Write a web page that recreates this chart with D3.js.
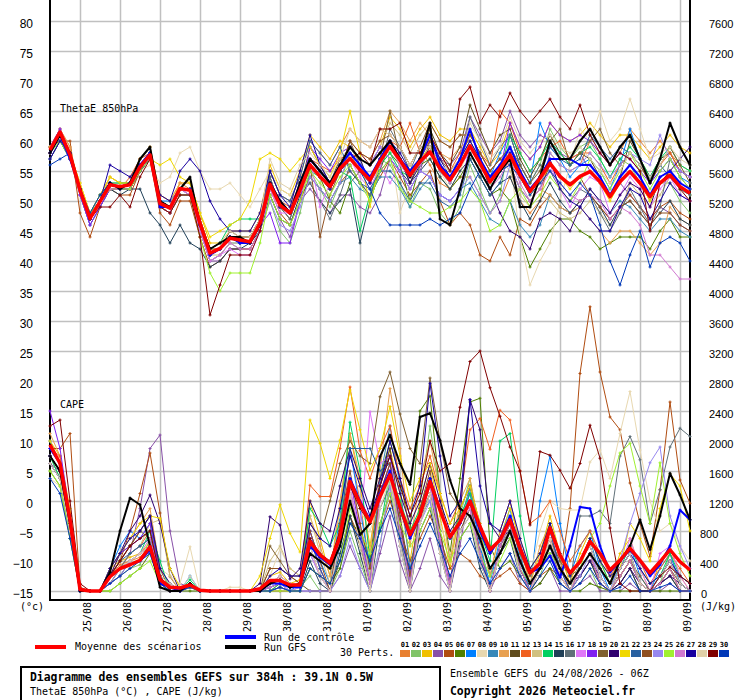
<!DOCTYPE html>
<html><head><meta charset="utf-8">
<script src="https://cdn.jsdelivr.net/npm/d3@7"></script>
<style>body{margin:0;background:#fff}svg{display:block}</style>
</head><body>
<svg id="c" width="740" height="700"></svg>
<script>
// ---------- DATA ----------
const steps = [0,6,12,18,24,30,36,42,48,54,60,66,72,78,84,90,96,102,108,114,120,126,132,138,144,150,156,162,168,174,180,186,192,198,204,210,216,222,228,234,240,246,252,258,264,270,276,282,288,294,300,306,312,318,324,330,336,342,348,354,360,366,372,378,384];
const dayHours = [18,42,66,90,114,138,162,186,210,234,258,282,306,330,354,378];
const dayLabels = ["25/08","26/08","27/08","28/08","29/08","30/08","31/08","01/09","02/09","03/09","04/09","05/09","06/09","07/09","08/09","09/09"];
const thetaTicks = [-15,-10,-5,0,5,10,15,20,25,30,35,40,45,50,55,60,65,70,75,80];
const capeTicks = [0,400,800,1200,1600,2000,2400,2800,3200,3600,4000,4400,4800,5200,5600,6000,6400,6800,7200,7600];
const memberNames = ["01","02","03","04","05","06","07","08","09","10","11","12","13","14","15","16","17","18","19","20","21","22","23","24","25","26","27","28","29","30"];
const memberColors = ["#e88030","#80c468","#f0c000","#8850a8","#b04c10","#508000","#0080ff","#e8d8b0","#3888b8","#e8a050","#604c1c","#f06020","#d0c080","#00d060","#204058","#607078","#e078f8","#8020f0","#806030","#300070","#f0d800","#2860a0","#905020","#9888f0","#a0f030","#d078d0","#1800a0","#e0d0a8","#800000","#0038b8"];

const thetaMean = [58.5,61.5,57.7,51.8,47.1,49.9,52.7,52.4,52.7,55.7,57.7,49.6,48.8,52.1,51.8,46.3,41.3,42.1,43.8,43.5,43.2,46.3,52.8,49.3,48.0,51.8,56.0,54.1,52.4,55.4,57.1,55.2,53.5,56.6,59.1,56.8,54.3,56.6,58.2,55.4,53.5,56.0,59.2,56.3,53.2,55.4,57.7,54.3,51.6,53.8,56.3,54.1,52.7,54.1,54.9,53.2,50.7,53.2,54.9,53.0,50.7,53.0,54.3,52.4,51.3];
const thetaControl = [58,61,57,52,47,50,53,52,53,56,58,49,49,52,52,46,41,42,44,43,43,46,53,50,48,53,57,55,53,56,58,56,54,57,60,57,55,57,61,56,54,57,62,57,54,56,59,55,52,54,57,57,57,56,56,54,51,54,56,54,51,54,55,53,52];
const thetaGFS = [58,61,58,52,47,50,53,52,53,57,59,50,49,52,54,46,42,43,44,44,43,46,53,50,48,53,57,55,53,56,59,57,56,58,60,57,54,57,63,47,46,52,58,55,52,55,57,49,49,54,60,57,57,60,62,59,56,59,61,57,53,57,63,59,56];
const thetaPerts = [
[59,62,59,51,47,50,53,52,52,55,58,50,49,53,52,47,42,43,44,44,44,47,55,51,50,54,60,58,56,59,62,60,59,62,61,59,56,59,56,53,52,54,54,51,48,50,54,50,48,50,58,56,55,56,60,58,56,58,62,60,58,60,58,56,55],
[58,60,57,52,48,50,52,52,53,56,57,49,48,51,51,45,40,41,43,42,42,45,50,45,43,48,55,52,49,53,58,55,53,57,56,53,49,53,52,48,46,49,56,52,48,51,61,56,53,56,62,59,57,59,60,57,54,57,56,53,50,53,53,50,48],
[59,61,58,53,48,51,54,53,53,57,59,51,50,53,53,48,43,43,45,45,45,48,56,52,51,55,61,59,57,60,59,57,56,59,64,62,59,62,64,61,60,62,62,59,56,58,63,59,57,59,63,61,60,61,63,61,59,61,61,59,57,59,61,59,58],
[58,62,58,51,46,49,52,52,52,55,57,49,48,51,51,45,40,40,42,42,42,45,51,47,44,50,52,50,48,51,51,49,48,51,57,55,52,55,60,57,56,58,64,61,58,60,65,61,59,61,60,58,57,58,55,53,51,53,51,49,47,49,48,46,45],
[59,60,60,48,44,49,52,51,51,55,57,48,46,50,50,44,39,40,42,42,42,45,52,48,46,50,54,52,50,53,55,53,51,54,57,54,51,53,55,50,46,48,46,41,40,44,41,47,46,49,51,49,48,50,51,49,47,49,51,49,47,49,50,48,47],
[58,61,57,52,47,50,53,52,53,56,58,50,49,52,52,46,41,42,44,43,43,46,53,49,48,52,56,54,50,48,53,55,53,56,58,56,50,56,57,54,52,54,57,54,51,52,50,44,39,42,45,47,47,45,44,42,43,44,44,44,42,45,47,44,44],
[57,60,58,52,48,50,53,53,53,56,57,50,50,52,51,46,42,43,44,44,44,47,53,50,48,52,57,55,53,56,58,56,53,57,60,57,55,57,59,56,54,57,60,57,54,58,61,56,53,63,59,57,54,56,57,55,52,56,62,57,53,55,57,54,53],
[57,60,58,53,48,51,53,53,53,55,56,53,54,58,59,55,52,52,53,51,49,52,55,52,51,53,56,55,53,57,59,56,54,57,59,48,53,56,58,55,52,55,59,56,53,56,57,44,36,40,43,50,56,62,60,65,60,62,67,62,57,58,59,56,55],
[58,61,57,51,46,49,52,52,52,55,57,49,48,51,51,45,40,41,43,43,43,46,53,49,48,52,54,52,50,53,54,52,51,54,54,52,49,52,54,51,50,52,53,50,47,46,50,46,44,46,51,49,48,49,52,50,48,50,49,47,45,47,47,45,44],
[59,62,59,52,47,50,54,53,53,57,59,51,50,53,53,47,42,42,44,44,44,47,55,51,50,54,56,54,52,55,60,58,57,60,65,63,60,63,61,58,57,59,60,57,54,56,56,52,50,52,51,49,48,49,47,45,43,45,45,43,41,43,49,47,46],
[58,61,58,52,47,50,53,52,53,56,58,50,49,52,52,46,41,42,45,44,44,47,54,49,47,52,59,56,53,57,56,53,51,55,60,57,53,57,62,58,56,59,66,62,58,61,62,57,54,57,61,58,56,58,57,54,51,54,60,57,54,57,58,55,54],
[58,61,58,52,47,50,52,52,54,57,58,49,48,52,52,46,41,42,44,43,43,46,53,50,49,53,57,56,55,57,58,57,56,58,60,59,63,58,60,58,55,58,61,58,56,65,63,58,55,57,59,60,57,58,58,56,53,56,58,56,53,56,58,55,54],
[59,61,58,52,47,50,53,53,53,56,58,50,49,52,52,46,41,41,43,43,43,46,51,47,46,50,56,54,52,55,59,57,56,59,63,61,58,61,63,60,59,61,61,58,55,57,55,51,49,51,50,48,47,48,50,48,46,48,53,51,49,51,54,52,51],
[58,61,58,52,48,51,53,53,53,55,57,50,49,52,52,46,42,43,46,47,47,47,53,49,48,52,55,54,53,55,54,45,51,56,58,55,54,56,58,55,53,56,59,56,53,55,61,58,55,57,60,58,56,58,59,57,54,57,59,57,54,57,59,56,55],
[57,60,57,52,48,50,52,51,52,52,48,46,43,46,43,42,39,40,42,42,43,45,51,47,46,51,53,50,48,50,52,43,50,55,57,55,53,55,57,54,52,55,57,54,51,53,54,50,47,50,53,50,48,50,51,49,46,49,50,48,46,48,50,47,46],
[58,61,58,52,47,50,53,52,52,56,58,50,49,52,51,46,41,42,44,43,43,46,54,49,47,52,53,50,47,51,56,53,51,55,62,59,55,59,59,55,53,56,64,60,56,59,61,56,53,56,55,52,50,52,51,48,45,48,52,49,46,49,57,54,52],
[59,61,58,51,47,50,52,52,53,56,57,49,48,52,51,45,40,41,42,41,41,45,52,48,48,53,57,49,53,56,57,54,52,56,53,56,54,57,59,56,54,56,59,57,54,56,58,55,52,54,56,52,49,52,54,53,48,51,54,52,49,52,54,51,50],
[59,62,58,51,46,49,52,52,52,55,57,49,48,51,51,46,41,42,44,43,43,46,48,43,43,50,59,57,55,58,59,57,56,59,57,55,52,55,54,51,50,52,59,56,53,55,63,59,57,59,63,61,60,61,60,58,56,58,57,55,53,55,57,55,54],
[58,61,58,52,47,50,53,52,52,55,58,50,49,52,52,47,42,42,44,44,44,47,53,49,48,52,56,54,52,55,60,56,54,57,65,57,55,57,60,57,55,57,61,58,55,57,59,56,53,55,60,62,56,58,60,62,58,56,58,56,53,56,59,56,53],
[58,61,57,52,47,50,53,52,52,55,57,50,49,52,52,46,41,42,44,43,43,46,53,49,48,52,56,54,52,55,57,55,53,57,59,57,53,56,59,56,54,56,59,57,52,48,45,44,42,47,48,47,45,49,52,50,48,51,53,52,49,54,55,57,59],
[59,61,58,53,48,51,54,53,53,56,57,56,57,54,53,48,44,45,46,47,50,57,58,57,55,57,59,56,54,58,65,58,49,57,60,57,55,57,59,56,54,56,59,56,53,55,57,54,51,53,56,54,52,54,55,53,50,53,55,53,50,53,55,52,51],
[58,61,58,52,47,50,53,52,53,56,58,50,49,52,52,46,41,42,44,43,43,46,55,51,50,54,60,58,56,59,55,53,52,55,55,53,50,53,53,50,49,51,57,54,51,53,58,54,52,54,59,57,56,57,61,59,57,59,58,56,54,56,54,52,51],
[58,61,58,52,47,50,52,52,53,56,58,50,49,52,52,46,41,42,44,43,43,46,53,50,48,53,56,44,51,55,60,58,57,60,61,59,56,59,63,60,59,61,61,58,55,57,56,52,50,52,56,54,53,54,51,49,47,49,50,48,46,48,48,46,45],
[58,61,57,52,47,50,53,52,52,56,57,50,49,52,52,46,41,42,44,43,43,46,50,46,45,49,54,52,50,53,59,57,56,59,57,55,52,55,54,51,50,52,54,51,48,50,56,52,50,52,58,56,55,56,58,56,54,56,58,57,56,61,57,55,54],
[58,60,57,52,48,50,52,52,52,55,57,49,48,51,51,44,38,35,38,38,38,43,51,47,46,50,55,53,51,54,56,53,50,55,57,52,50,49,48,48,49,50,52,50,45,46,50,52,49,51,54,52,50,53,57,55,52,55,58,55,52,55,57,54,52],
[58,61,58,52,47,50,52,52,53,56,57,49,48,52,51,45,40,41,43,42,42,45,52,49,48,52,56,54,52,55,57,55,53,56,59,56,54,56,58,55,53,56,58,55,52,54,57,53,50,52,55,53,51,50,51,50,47,49,48,46,41,41,39,37,37],
[57,60,58,52,47,50,56,55,54,56,58,51,50,55,57,55,50,47,45,45,45,48,55,51,49,55,61,56,53,56,59,57,53,57,60,58,55,57,61,57,54,57,60,57,54,55,58,55,52,54,57,52,50,49,47,45,45,49,52,51,47,50,53,51,50],
[58,61,58,52,47,50,53,52,53,56,58,50,49,52,52,46,42,43,45,44,44,47,57,53,52,56,58,56,54,57,62,60,59,62,61,59,56,59,59,56,55,57,63,60,57,59,64,60,58,60,61,59,58,59,57,55,53,55,58,56,54,56,59,57,56],
[58,61,58,52,47,49,49,51,49,54,57,49,48,51,51,44,31,36,41,41,41,45,53,49,48,52,56,54,52,55,57,58,56,62,62,63,58,58,61,58,55,67,69,63,66,64,68,65,63,65,67,64,62,66,61,58,56,58,57,55,45,53,55,52,50],
[56,57,58,52,48,51,53,52,53,56,58,50,49,52,52,46,41,42,44,43,43,46,53,49,48,52,56,54,52,55,57,55,52,48,46,46,46,46,47,46,47,48,52,55,52,55,56,54,51,53,55,53,51,53,51,46,40,36,41,45,39,43,44,43,40]
];

const capeMean = [1950,1700,950,20,0,0,190,300,350,410,590,150,50,40,80,10,0,0,0,0,0,30,140,140,80,80,660,480,370,720,1460,1170,920,1260,1550,1120,750,1010,1460,1080,720,920,1200,860,550,680,950,570,240,370,840,480,240,390,660,500,280,410,570,410,240,390,550,390,280];
const capeControl = [1900,1700,950,0,0,0,200,300,350,400,550,100,50,0,80,0,0,0,0,0,0,0,100,100,50,50,600,450,350,700,1500,1200,950,1300,1600,1100,700,1000,1500,1100,700,900,1200,800,500,700,1000,600,250,300,470,180,600,1120,1100,600,250,400,550,400,200,350,600,1080,950];
const capeGFS = [1800,1600,900,0,0,0,250,800,1240,1150,600,50,0,0,100,0,0,0,0,0,0,0,100,150,50,100,500,400,300,600,1200,750,900,1790,2080,1700,1420,2320,2370,2010,1480,1100,1000,700,300,500,800,400,100,300,600,300,100,300,500,300,100,400,600,950,550,1000,1570,1280,950];
const capePerts = [
[1900,1700,900,0,0,0,200,350,400,450,600,100,0,0,50,0,0,0,0,0,0,0,100,150,50,100,700,300,0,800,1900,1200,300,1300,1700,900,0,1000,1400,700,0,900,1100,500,0,600,900,300,0,300,700,200,0,300,500,100,0,200,400,100,0,100,300,0,0],
[1800,1500,800,0,0,0,100,200,300,350,700,200,0,0,100,0,0,0,0,0,0,0,50,100,0,50,200,0,0,300,800,400,0,600,1500,700,100,1200,2200,1300,400,1000,1500,700,0,500,800,300,0,200,600,100,0,100,300,0,0,200,400,100,0,100,500,100,0],
[2000,1800,1100,0,0,0,300,400,450,500,650,150,50,0,100,0,0,0,0,0,0,0,200,250,100,150,1200,700,200,1100,2100,1400,600,1500,1900,1300,400,1200,1700,1000,300,1100,1400,800,200,800,1200,600,100,500,1000,500,100,500,800,400,100,500,700,300,0,400,600,200,0],
[1700,1600,1000,0,0,0,100,300,500,1100,1900,2080,800,100,50,0,0,0,0,0,0,0,0,50,0,0,0,0,0,200,600,300,0,500,1000,400,0,300,700,200,0,600,1400,600,0,300,500,100,0,100,300,0,0,100,200,0,0,0,100,0,0,0,100,0,0],
[1900,1900,2100,50,0,0,200,400,800,1300,1840,1040,190,0,50,0,0,0,0,0,0,0,0,0,0,0,300,200,100,400,1000,700,400,800,1200,800,400,700,1000,700,300,500,400,200,100,200,300,100,0,200,300,200,1100,2900,3790,2920,2320,2150,1440,900,460,1350,2520,1480,1170],
[1600,1400,700,0,0,0,0,100,200,300,500,100,0,0,0,0,0,0,0,0,0,0,0,50,0,0,300,200,100,300,900,800,400,1500,2000,1500,800,2400,2600,1300,500,1500,2520,2570,600,300,400,200,0,100,300,100,0,0,100,50,0,0,0,0,0,0,0,0,0],
[2000,1700,1000,0,0,0,300,600,800,700,900,200,100,0,200,0,0,0,0,0,0,0,100,100,0,100,800,400,100,1000,1900,1100,300,1400,1800,900,200,1100,1500,700,100,900,1300,600,100,700,1100,400,0,1200,1800,900,200,600,800,300,0,400,600,200,0,300,500,100,0],
[1500,1400,900,0,0,0,100,200,300,400,500,300,200,100,590,0,0,0,50,50,0,0,200,560,300,200,900,700,600,1000,1400,1100,800,1200,1500,1000,700,900,1300,900,500,700,900,600,300,500,700,400,200,800,1200,1100,1080,1080,1720,1880,1500,2100,2660,1880,1200,800,900,600,400],
[1800,1600,900,0,0,0,200,400,600,700,800,100,0,0,100,0,0,0,0,0,0,0,50,100,50,50,500,200,0,600,1200,800,200,1500,2200,1400,300,1000,1200,600,100,900,1400,800,200,600,1000,500,0,400,900,400,0,400,700,200,0,300,500,100,0,200,400,100,0],
[2100,1800,1000,0,0,0,200,500,700,900,1100,300,100,0,100,0,0,0,0,0,0,0,100,200,100,100,1000,600,200,1200,2100,1500,500,1600,2700,1900,600,1500,2000,1300,400,1200,1500,800,200,800,1200,600,100,600,900,400,0,400,600,200,0,300,500,100,0,200,400,100,0],
[1700,1500,900,0,0,0,300,500,600,800,1000,200,0,0,100,0,0,0,0,0,0,0,300,300,200,100,0,0,0,400,1000,600,100,1400,1900,1000,200,900,1300,700,100,800,1100,500,0,500,800,300,0,300,600,200,0,200,400,100,0,100,300,0,0,100,200,0,0],
[1900,1800,1000,0,0,0,200,300,500,600,800,200,0,0,100,0,0,0,0,0,0,0,0,100,50,100,1410,1260,1260,1900,2720,1870,1500,1900,2200,1500,1100,1400,1800,1300,900,1200,2150,2300,1890,2410,2280,1600,900,1000,1200,800,400,600,800,500,200,400,600,400,100,300,500,300,100],
[1800,1600,900,0,0,0,200,300,500,600,900,950,200,0,100,0,0,0,0,0,0,0,400,600,300,200,1000,500,100,900,1500,900,200,1300,1600,800,100,1000,1400,700,0,900,1100,400,0,500,900,300,0,300,700,200,0,300,500,100,0,200,400,100,0,100,300,0,0],
[1800,1500,800,0,0,0,100,300,400,500,800,400,0,0,150,0,0,0,0,0,0,0,0,100,50,100,1100,900,600,900,2250,1600,400,800,1600,1200,800,1100,1500,1100,700,1000,1300,800,400,2000,2100,1000,300,500,900,500,200,400,700,400,100,300,600,300,100,200,500,200,100],
[1700,1500,800,0,0,0,100,200,400,500,600,100,0,0,50,0,0,0,0,0,0,0,0,50,0,0,400,100,0,500,1000,500,0,900,1300,600,0,800,1100,500,0,700,900,300,0,500,700,200,0,300,500,100,0,200,400,100,0,100,300,0,0,100,200,0,0],
[1800,1600,900,0,0,0,200,300,500,600,700,200,0,0,100,0,0,0,0,0,0,0,50,100,50,50,600,200,0,700,1300,700,100,1100,1400,700,100,1000,1300,600,0,800,1000,400,0,600,800,300,0,400,700,300,100,1000,1000,1070,900,1800,2060,1750,900,1350,1920,2170,2060],
[1900,1700,900,0,0,0,200,300,400,500,600,100,0,0,100,0,0,0,0,0,0,0,50,100,0,50,500,200,0,700,1300,800,2390,1700,1800,900,100,1000,1400,700,0,900,1100,500,0,600,900,300,0,400,700,200,0,300,500,200,0,300,700,300,0,500,600,200,0],
[2400,1900,1000,0,0,0,300,500,600,700,900,200,0,0,100,0,0,0,0,0,0,0,100,200,100,100,800,300,0,800,1500,800,100,1300,1700,900,200,1000,1500,700,100,900,1200,500,0,600,900,300,0,400,800,300,0,400,600,200,0,300,500,100,0,200,400,100,0],
[1800,1600,1000,0,0,0,200,400,600,800,700,200,0,0,100,0,0,0,0,0,0,0,600,400,200,200,900,700,1200,1700,2000,1800,1700,2590,2920,2360,1900,1700,2840,2000,1300,1100,1400,900,500,700,900,500,200,400,700,400,200,300,500,300,100,200,400,200,0,100,300,100,0],
[1700,1500,900,0,0,0,200,500,800,1000,1280,900,300,0,50,0,0,0,0,0,0,100,990,880,160,300,1200,900,800,1400,1900,1500,1100,1500,1800,1300,900,1200,1700,1200,800,1000,2550,2150,900,700,800,400,100,300,600,300,100,200,400,200,0,100,300,100,0,100,200,100,0],
[2000,1700,1000,0,0,0,300,500,700,900,1000,970,300,50,100,0,0,0,0,0,0,200,700,1150,770,520,2280,1970,1500,2010,2680,2150,1610,1900,2460,1800,1200,1500,1700,1300,900,1100,1400,900,500,700,1100,700,300,500,900,500,200,400,700,400,200,300,900,700,400,1100,1560,1400,800],
[1800,1600,900,0,0,0,200,400,500,600,700,200,0,0,100,0,0,0,0,0,0,0,50,100,50,50,700,300,0,800,1900,1900,1900,1600,1700,800,100,1100,1500,800,100,900,1200,500,0,600,900,300,0,400,800,300,0,400,600,200,0,300,500,100,0,200,400,100,0],
[1800,1600,900,0,0,0,200,400,600,800,1000,300,0,0,100,0,0,0,0,0,0,0,300,300,200,100,800,400,0,900,1600,900,300,1300,1700,900,200,1100,1600,800,100,1000,1200,500,0,600,900,300,0,400,700,200,0,300,500,100,0,200,400,100,0,100,300,0,0],
[1700,1500,800,0,0,0,100,200,400,500,600,100,0,0,50,0,0,0,0,0,0,0,0,50,0,0,0,0,0,200,700,300,0,600,1400,600,0,900,1200,500,0,800,1000,400,0,500,800,200,0,300,600,100,0,200,500,200,0,400,900,1300,1710,1920,1000,600,300],
[1600,1400,700,0,0,0,0,100,200,300,400,100,0,0,50,0,0,0,0,0,0,0,0,0,0,0,300,200,100,400,1100,800,500,900,1300,900,600,800,1100,800,400,700,900,500,200,400,700,300,100,300,500,300,100,300,700,900,1400,1840,1970,1400,900,1710,900,500,200],
[1800,1600,900,0,0,0,100,300,400,500,700,200,0,0,100,0,0,0,0,0,0,0,50,100,50,50,600,200,0,700,1400,700,100,1200,1600,800,100,1000,1400,700,100,900,1100,500,0,600,900,300,0,400,700,200,0,300,500,100,0,200,400,100,0,100,300,0,0],
[1800,1600,1000,0,0,0,300,500,700,800,1000,300,100,0,100,0,0,0,0,0,0,0,200,300,200,200,900,700,600,1100,1800,1400,1000,1400,2000,1500,1000,1400,2770,1800,1000,1200,2550,1400,900,800,1200,700,300,500,900,500,200,400,700,400,200,300,500,300,100,200,400,200,100],
[1700,1500,800,0,0,0,200,300,400,500,600,200,100,0,200,0,0,0,0,0,0,0,100,200,100,100,600,200,0,700,1300,600,0,1100,1500,600,0,900,1300,500,0,800,1000,400,0,500,800,200,0,300,700,200,0,400,600,200,0,300,500,100,0,200,400,100,0],
[2200,2280,1200,100,0,0,200,400,600,700,800,200,0,0,100,0,0,0,0,0,0,0,100,100,50,100,700,500,400,800,1400,1100,900,1400,1800,1400,1000,1300,2000,1600,1700,2450,3060,3200,2710,2330,1920,1600,880,1860,1810,1610,1370,1700,2210,1770,840,100,0,0,0,200,320,200,100],
[1500,1300,700,0,0,0,100,200,300,400,500,100,0,0,50,0,0,0,0,0,0,0,0,50,0,0,300,200,100,400,900,700,400,800,1100,700,300,600,900,600,200,500,700,400,100,300,500,200,0,200,400,100,0,100,300,100,0,50,200,0,0,50,100,0,0]
];

// ---------- SCALES ----------
const svg = d3.select("#c");
const x = d3.scaleLinear().domain([0,384]).range([50,690]);
const yT = d3.scaleLinear().domain([-15,80]).range([591,21]);
const yC = d3.scaleLinear().domain([0,7600]).range([591,21]);
const MONO = "'DejaVu Sans Mono', monospace";
const SANS = "'Liberation Sans', Arial, sans-serif";

// ---------- GRID / AXES ----------
const gx = svg.append("g").attr("transform","translate(0,600)")
  .call(d3.axisBottom(x).tickValues(dayHours).tickSize(-600).tickFormat((d,i)=>dayLabels[i]));
gx.select(".domain").remove();
gx.selectAll(".tick line").attr("stroke","#c0c0c0").attr("stroke-width",1.5);
gx.selectAll(".tick text").attr("x",0).attr("y",0).attr("dy",null)
  .attr("transform","translate(10.5,2) rotate(-90)").attr("text-anchor","end")
  .attr("fill","#000").style("font-family",MONO).style("font-size","10px");

const gy = svg.append("g").attr("transform","translate(50,0)")
  .call(d3.axisLeft(yT).tickValues(thetaTicks).tickSize(-640).tickPadding(17).tickFormat(d3.format("d")));
gy.select(".domain").remove();
gy.selectAll(".tick line").attr("stroke","#c0c0c0").attr("stroke-width",1.5);
gy.selectAll(".tick text").attr("dy","0.5em").attr("fill","#000")
  .style("font-family",SANS).style("font-size","12px");

const gr = svg.append("g").attr("transform","translate(690,0)")
  .call(d3.axisRight(yC).tickValues(capeTicks).tickSize(0).tickFormat(d3.format("d")));
gr.select(".domain").remove();
gr.selectAll(".tick text").attr("dy","0.55em").attr("fill","#000")
  .attr("x",d=>{const n=String(d).length; return n>=4?19:(n===3?10:11);})
  .style("font-family",SANS).style("font-size","11px");

// axis frame lines
svg.append("line").attr("x1",50).attr("x2",50).attr("y1",0).attr("y2",601).attr("stroke","#000").attr("stroke-width",2);
svg.append("line").attr("x1",690).attr("x2",690).attr("y1",0).attr("y2",601).attr("stroke","#000").attr("stroke-width",2);
svg.append("line").attr("x1",49).attr("x2",691).attr("y1",600).attr("y2",600).attr("stroke","#000").attr("stroke-width",2);

// ---------- SERIES ----------
function drawSeries(g, vals, y, color, width, markers){
  const line = d3.line().defined(d=>d!=null).x((d,i)=>x(steps[i])).y(d=>y(d));
  g.append("path").attr("d",line(vals)).attr("fill","none").attr("stroke",color)
    .attr("stroke-width",width).attr("stroke-linejoin","round");
  if(markers){
    let p="";
    vals.forEach((v,i)=>{ if(v==null) return; const px=x(steps[i]), py=y(v);
      p+=`M${px-1.5},${py}h3M${px},${py-1.5}v3`; });
    g.append("path").attr("d",p).attr("fill","none").attr("stroke",color).attr("stroke-width",1);
  }
}
const plot = svg.append("g");
capePerts.forEach((s,k)=>drawSeries(plot,s,yC,memberColors[k],1,true));
thetaPerts.forEach((s,k)=>drawSeries(plot,s,yT,memberColors[k],1,true));
drawSeries(plot,capeControl,yC,"#0000ff",2,true);
drawSeries(plot,thetaControl,yT,"#0000ff",2,true);
drawSeries(plot,capeGFS,yC,"#000000",2,true);
drawSeries(plot,thetaGFS,yT,"#000000",2,true);
drawSeries(plot,capeMean,yC,"#ff0000",3.5,false);
drawSeries(plot,thetaMean,yT,"#ff0000",3.5,false);

// ---------- LABELS ----------
function txt(xp,yp,s,size,bold,font){
  return svg.append("text").attr("x",xp).attr("y",yp).text(s)
    .style("font-family",font||MONO).style("font-size",size+"px")
    .style("font-weight",bold?"bold":"normal").attr("fill","#000");
}
txt(60,112,"ThetaE 850hPa",10);
txt(60,408,"CAPE",10);
txt(20,610,"(°c)",10);
txt(700,610,"(J/kg)",10);

// legend
svg.append("line").attr("x1",35).attr("x2",66).attr("y1",647).attr("y2",647).attr("stroke","#ff0000").attr("stroke-width",4);
txt(75,650,"Moyenne des scénarios",10);
svg.append("line").attr("x1",225).attr("x2",256).attr("y1",637).attr("y2",637).attr("stroke","#0000ff").attr("stroke-width",4);
txt(264,641,"Run de contrôle",10);
svg.append("line").attr("x1",225).attr("x2",256).attr("y1",647).attr("y2",647).attr("stroke","#000000").attr("stroke-width",4);
txt(264,651,"Run GFS",10);
txt(340,656,"30 Perts.",10);
const lg = svg.append("g");
memberNames.forEach((n,k)=>{
  const bx = 400 + 11*k;
  lg.append("rect").attr("x",bx).attr("y",650).attr("width",10).attr("height",7).attr("fill",memberColors[k]);
  lg.append("text").attr("x",bx+5).attr("y",647).attr("text-anchor","middle").text(n)
    .style("font-family",MONO).style("font-size","7px").style("font-weight","bold").attr("fill","#000");
});

// bottom boxes
svg.append("rect").attr("x",21).attr("y",667).attr("width",419).attr("height",45)
  .attr("fill","none").attr("stroke","#000").attr("stroke-width",2);
txt(30,681,"Diagramme des ensembles GEFS sur 384h : 39.1N 0.5W",11.4,true);
txt(30,695,"ThetaE 850hPa (°C) , CAPE (J/kg)",10);
txt(450,677,"Ensemble GEFS du 24/08/2026 - 06Z",10);
txt(450,695,"Copyright 2026 Meteociel.fr",11.4,true);
</script>
</body></html>
